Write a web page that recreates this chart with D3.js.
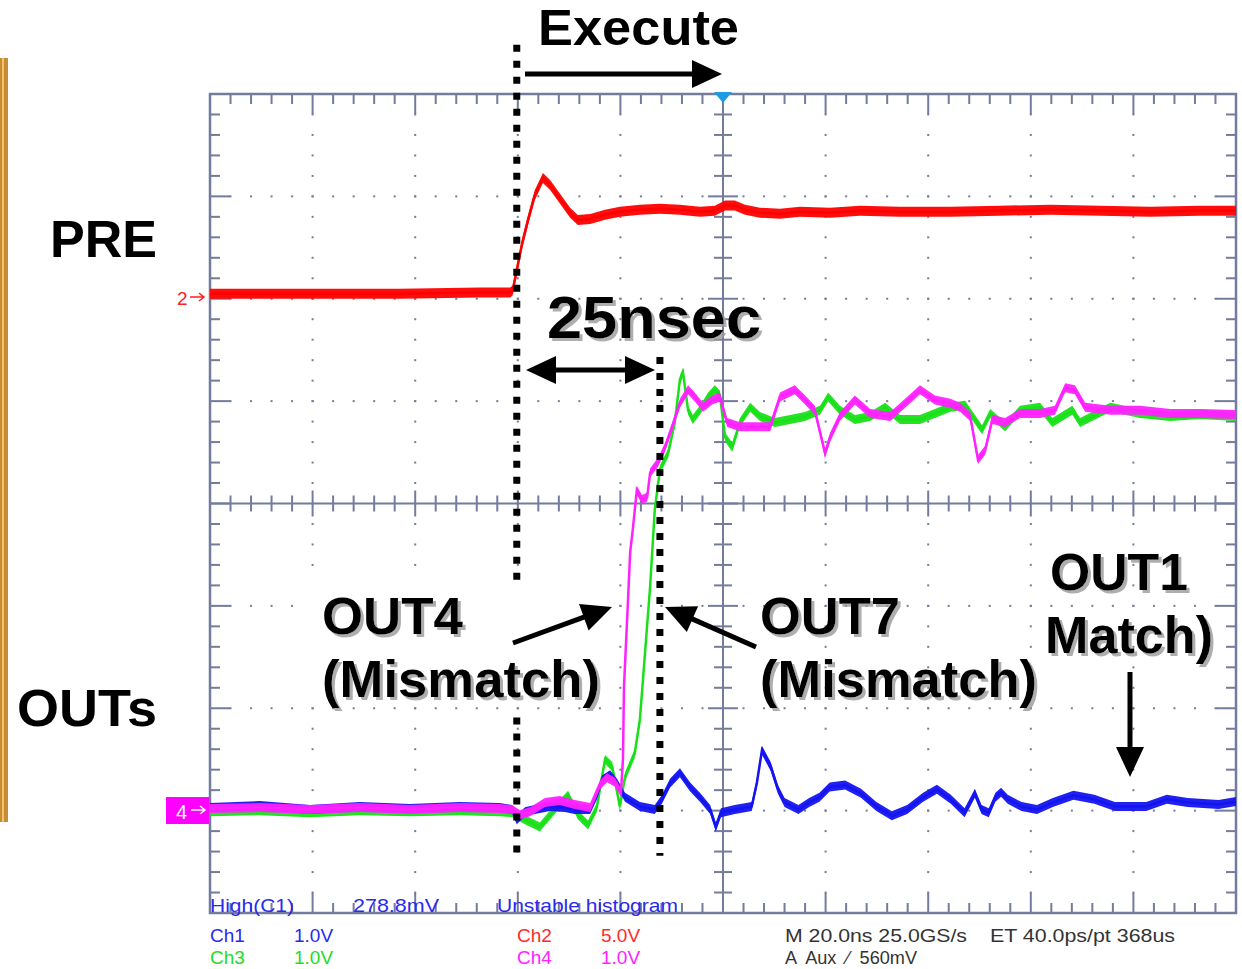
<!DOCTYPE html>
<html>
<head>
<meta charset="utf-8">
<script src="https://cdn.jsdelivr.net/npm/d3@7"></script>
<style>
  body { margin: 0; background: #fff; }
  text { font-family: 'Liberation Sans', Arial, sans-serif; }
</style>
</head>
<body>
<div id="scope"></div>
<script>
// time in ns (20 ns/div, trigger at 0), level in screen divisions
const ch2 = [ // PRE, red
  [-100, 2.05], [-82.5, 2.05], [-63, 2.05], [-47.4, 2.06], [-41.5, 2.06], [-41.0, 2.08],
  [-40.0, 2.33], [-39.2, 2.53], [-38.0, 2.77], [-36.7, 3.01], [-35.1, 3.18], [-33.7, 3.11],
  [-31.8, 2.98], [-29.8, 2.84], [-28.3, 2.77], [-25.9, 2.78], [-23.0, 2.82], [-20.1, 2.85],
  [-16.2, 2.87], [-12.3, 2.88], [-8.4, 2.87], [-4.5, 2.85], [-1.6, 2.86], [0.4, 2.91],
  [2.3, 2.91], [4.3, 2.87], [7.2, 2.84], [11.1, 2.83], [15.0, 2.85], [20.9, 2.84],
  [26.7, 2.86], [34.5, 2.85], [44.3, 2.85], [54.0, 2.86], [63.8, 2.87], [73.5, 2.86],
  [83.3, 2.85], [93.0, 2.86], [100, 2.86],
];

const ch1 = [ // OUT1, blue
  [-100, -2.97], [-90.3, -2.95], [-80.5, -2.99], [-70.8, -2.96], [-61.0, -2.98], [-51.3, -2.96],
  [-43.5, -2.97], [-41.1, -2.99], [-40.2, -3.09], [-38.6, -3.01], [-36.7, -2.99], [-33.7, -2.96],
  [-30.8, -2.97], [-28.9, -2.99], [-25.9, -2.99], [-24.6, -2.85], [-23.6, -2.70], [-22.0, -2.65],
  [-20.7, -2.73], [-19.1, -2.87], [-16.2, -2.96], [-13.3, -2.99], [-11.9, -2.89], [-10.3, -2.73],
  [-8.4, -2.63], [-6.4, -2.77], [-4.5, -2.87], [-2.5, -2.99], [-1.4, -3.16], [-0.4, -3.02],
  [2.3, -2.99], [5.6, -2.96], [6.6, -2.73], [7.6, -2.41], [9.3, -2.57], [10.7, -2.79],
  [12.0, -2.92], [14.7, -2.99], [16.8, -2.92], [18.8, -2.87], [20.8, -2.77], [23.8, -2.75],
  [26.9, -2.83], [29.9, -2.96], [32.9, -3.05], [35.9, -2.99], [39.0, -2.87], [41.7, -2.79],
  [44.4, -2.89], [47.1, -3.02], [49.1, -2.83], [50.4, -2.99], [51.8, -3.02], [53.1, -2.87],
  [54.2, -2.82], [55.5, -2.89], [58.2, -2.96], [61.2, -2.99], [64.3, -2.92], [68.3, -2.85],
  [72.4, -2.89], [76.4, -2.96], [82.5, -2.96], [86.5, -2.89], [90.6, -2.92], [96.6, -2.94],
  [100, -2.91],
];

const ch3 = [ // OUT7, green
  [-100, -3.01], [-90.3, -3.00], [-80.5, -3.02], [-70.8, -3.00], [-61.0, -3.01], [-51.3, -3.00],
  [-43.5, -3.01], [-41.1, -3.02], [-38.6, -3.09], [-35.7, -3.16], [-32.8, -2.99], [-30.2, -2.85],
  [-28.3, -3.04], [-26.3, -3.14], [-24.6, -2.97], [-23.0, -2.50], [-21.6, -2.57], [-20.1, -2.96],
  [-19.1, -2.67], [-17.2, -2.44], [-16.2, -2.11], [-15.2, -1.46], [-14.2, -0.81], [-13.3, -0.06],
  [-12.3, 0.33], [-10.7, 0.49], [-9.4, 0.79], [-8.4, 1.21], [-7.8, 1.28], [-6.8, 0.91],
  [-5.9, 0.82], [-4.5, 0.91], [-2.9, 1.04], [-1.6, 1.11], [-0.6, 1.06], [0.4, 0.65],
  [1.8, 0.55], [3.3, 0.79], [5.3, 0.94], [7.2, 0.85], [10.1, 0.79], [13.1, 0.82],
  [16.0, 0.85], [18.9, 0.91], [20.5, 1.04], [22.8, 0.91], [25.7, 0.82], [28.7, 0.85],
  [31.6, 0.94], [34.5, 0.82], [38.4, 0.82], [41.3, 0.88], [44.3, 0.94], [47.2, 0.96],
  [50.5, 0.72], [52.1, 0.88], [55.0, 0.75], [57.9, 0.91], [61.8, 0.94], [64.2, 0.79],
  [66.1, 0.85], [68.1, 0.91], [69.6, 0.79], [75.5, 0.94], [81.3, 0.88], [87.2, 0.85],
  [93.0, 0.87], [100, 0.85],
];

const ch4 = [ // OUT4, magenta
  [-100, -2.98], [-90.3, -2.97], [-80.5, -2.99], [-70.8, -2.97], [-61.0, -2.99], [-51.3, -2.97],
  [-43.5, -2.98], [-41.1, -2.99], [-39.6, -3.04], [-37.6, -3.01], [-34.7, -2.92], [-31.8, -2.90],
  [-28.9, -2.94], [-25.9, -2.97], [-24.0, -2.75], [-22.6, -2.68], [-21.1, -2.72], [-19.9, -2.82],
  [-19.5, -2.50], [-19.3, -1.79], [-18.7, -1.14], [-18.1, -0.48], [-17.6, -0.26], [-16.8, 0.13],
  [-15.8, 0.04], [-14.8, 0.06], [-14.2, 0.30], [-12.7, 0.40], [-11.3, 0.55], [-9.9, 0.75],
  [-8.4, 0.98], [-6.8, 1.11], [-5.5, 1.04], [-3.9, 0.94], [-2.1, 1.01], [-0.6, 1.04],
  [0.8, 0.79], [3.3, 0.75], [7.2, 0.75], [9.2, 0.75], [11.1, 1.04], [14.0, 1.11],
  [16.0, 1.01], [17.9, 0.91], [19.9, 0.49], [20.9, 0.65], [22.8, 0.85], [25.7, 1.01],
  [28.7, 0.88], [32.6, 0.85], [35.5, 0.98], [38.4, 1.11], [41.3, 1.01], [44.3, 0.98],
  [46.2, 0.94], [48.2, 0.85], [49.7, 0.43], [51.1, 0.52], [52.5, 0.82], [55.0, 0.79],
  [57.9, 0.88], [61.8, 0.88], [64.7, 0.91], [66.7, 1.13], [68.6, 1.11], [70.6, 0.94],
  [75.5, 0.91], [81.3, 0.91], [87.2, 0.88], [93.0, 0.88], [100, 0.87],
];

const statusRow = ['High(C1)', '278.8mV', 'Unstable histogram'];
const channelLabels = [['Ch1', '1.0V'], ['Ch2', '5.0V'], ['Ch3', '1.0V'], ['Ch4', '1.0V']];
const timebaseLines = ['M 20.0ns 25.0GS/s', 'ET 40.0ps/pt 368us', 'A  Aux  \u2215  560mV'];

const margin = {top: 94, right: 6, bottom: 56, left: 210};
const W = 1242;
const H = 969;
const width = W - margin.left - margin.right;
const height = H - margin.top - margin.bottom;

const x = d3.scaleLinear().domain([-100, 100]).range([margin.left, margin.left + width]);
const y = d3.scaleLinear().domain([-4, 4]).range([margin.top + height, margin.top]);

const gridColor = '#737c9c';
const majorX = d3.range(-5, 6).map(d => d * 20);
const minorX = d3.range(-25, 26).map(d => d * 4);
const majorY = d3.range(-4, 5);
const minorY = d3.range(-20, 21).map(d => d / 5);

const svg = d3
  .select('#scope')
  .append('svg')
  .attr('width', W)
  .attr('height', H);

const defs = svg.append('defs');
defs
  .append('filter')
  .attr('id', 'shadow')
  .append('feDropShadow')
  .attr('dx', 3)
  .attr('dy', 3)
  .attr('stdDeviation', 0.6)
  .attr('flood-color', '#9a9a9a')
  .attr('flood-opacity', 0.8);

// edge of a slide picture at the far left
svg.append('rect').attr('x', 0).attr('y', 58).attr('width', 8).attr('height', 764).attr('fill', '#c98c33');
svg.append('rect').attr('x', 2).attr('y', 58).attr('width', 2).attr('height', 764).attr('fill', '#ecc470');

const grid = svg.append('g');

// dotted graticule
const dots = [];
majorX.slice(1, -1).filter(t => t !== 0).forEach(t => {
  minorY.slice(1, -1).forEach(v => dots.push([t, v]));
});
majorY.slice(1, -1).filter(v => v !== 0).forEach(v => {
  minorX.slice(1, -1).forEach(t => dots.push([t, v]));
});
grid
  .selectAll('rect.dot')
  .data(dots)
  .join('rect')
  .attr('class', 'dot')
  .attr('x', d => x(d[0]) - 1)
  .attr('y', d => y(d[1]) - 1)
  .attr('width', 2)
  .attr('height', 2)
  .attr('fill', gridColor);

// border ticks and centre cross
const isMajorT = t => Math.abs(t % 20) < 1e-6;
const isMajorV = v => Math.abs(v - Math.round(v)) < 1e-6;
const tickLen = major => (major ? 20 : 10);
const tickLines = [];
minorX.slice(1, -1).forEach(t => {
  const l = tickLen(isMajorT(t));
  tickLines.push([x(t), y(4), x(t), y(4) + l]);
  tickLines.push([x(t), y(-4), x(t), y(-4) - l]);
  const c = isMajorT(t) ? 13 : 8;
  tickLines.push([x(t), y(0) - c, x(t), y(0) + c]);
});
minorY.slice(1, -1).forEach(v => {
  const l = tickLen(isMajorV(v));
  tickLines.push([x(-100), y(v), x(-100) + l, y(v)]);
  tickLines.push([x(100), y(v), x(100) - l, y(v)]);
  const c = isMajorV(v) ? 15 : 9;
  tickLines.push([x(0) - c, y(v), x(0) + c, y(v)]);
});
tickLines.push([x(0), y(4), x(0), y(-4)]);
tickLines.push([x(-100), y(0), x(100), y(0)]);
grid
  .selectAll('line.tick')
  .data(tickLines)
  .join('line')
  .attr('class', 'tick')
  .attr('x1', d => d[0])
  .attr('y1', d => d[1])
  .attr('x2', d => d[2])
  .attr('y2', d => d[3])
  .attr('stroke', gridColor)
  .attr('stroke-width', 2);

grid
  .append('rect')
  .attr('x', x(-100))
  .attr('y', y(4))
  .attr('width', x(100) - x(-100))
  .attr('height', y(-4) - y(4))
  .attr('fill', 'none')
  .attr('stroke', gridColor)
  .attr('stroke-width', 2.5);

// trigger position marker
svg
  .append('path')
  .attr('d', `M${x(0) - 9},${y(4) - 2}L${x(0) + 9},${y(4) - 2}L${x(0)},${y(4) + 9}Z`)
  .attr('fill', '#1f9be3');

// waveforms: noisy band + core line
const traces = [
  {data: ch2, color: '#ff0000', noise: 5},
  {data: ch3, color: '#19e019', noise: 4.5},
  {data: ch1, color: '#1414f0', noise: 4.5},
  {data: ch4, color: '#ff22ff', noise: 4.5},
];
traces.forEach(tr => {
  const band = d3
    .area()
    .x(d => x(d[0]))
    .y0(d => y(d[1]) - tr.noise)
    .y1(d => y(d[1]) + tr.noise);
  const core = d3
    .line()
    .x(d => x(d[0]))
    .y(d => y(d[1]));
  svg.append('path').datum(tr.data).attr('d', band).attr('fill', tr.color).attr('opacity', 0.95);
  svg
    .append('path')
    .datum(tr.data)
    .attr('d', core)
    .attr('fill', 'none')
    .attr('stroke', tr.color)
    .attr('stroke-width', 2.5);
});

// channel ground markers
svg.append('text').attr('x', 177).attr('y', 305).attr('font-size', 19).attr('fill', '#ff2020').text('2');
svg.append('path').attr('d', 'M190,297H204M199,293L204,297L199,301').attr('stroke', '#ff2020').attr('fill', 'none').attr('stroke-width', 1.5);
svg.append('rect').attr('x', 166).attr('y', 797).attr('width', 43).attr('height', 27).attr('fill', '#ff00ff');
svg.append('text').attr('x', 176).attr('y', 819).attr('font-size', 20).attr('fill', '#fff').text('4');
svg.append('path').attr('d', 'M191,810H205M200,806L205,810L200,814').attr('stroke', '#fff').attr('fill', 'none').attr('stroke-width', 1.5);

// status texts under the graticule
const status = svg.append('g').attr('font-size', 19);
[[210, 84], [353, 86], [497, 181]].forEach(([px, len], i) => {
  status.append('text').attr('x', px).attr('y', 912).attr('fill', '#2a2aee')
    .attr('textLength', len).attr('lengthAdjust', 'spacingAndGlyphs').text(statusRow[i]);
});
const chColors = ['#2a2aee', '#ff2a2a', '#22dd22', '#ff22ff'];
channelLabels.forEach(([name, scale], i) => {
  const px = i % 2 === 0 ? 210 : 517;
  const py = i < 2 ? 942 : 964;
  status.append('text').attr('x', px).attr('y', py).attr('fill', chColors[i]).text(name);
  status.append('text').attr('x', px + 84).attr('y', py).attr('fill', chColors[i]).text(scale);
});
status.append('text').attr('x', 785).attr('y', 942).attr('fill', '#333')
  .attr('textLength', 182).attr('lengthAdjust', 'spacingAndGlyphs').text(timebaseLines[0]);
status.append('text').attr('x', 990).attr('y', 942).attr('fill', '#333')
  .attr('textLength', 185).attr('lengthAdjust', 'spacingAndGlyphs').text(timebaseLines[1]);
status.append('text').attr('x', 785).attr('y', 964).attr('fill', '#333')
  .attr('xml:space', 'preserve').attr('textLength', 132).attr('lengthAdjust', 'spacingAndGlyphs').text(timebaseLines[2]);

// annotations
const notes = svg.append('g');
notes.append('rect').attr('x', 300).attr('y', 582).attr('width', 303).attr('height', 120).attr('fill', '#fff');

const dotted = (t, v1, v2) => {
  notes
    .append('line')
    .attr('x1', x(t))
    .attr('x2', x(t))
    .attr('y1', y(v1))
    .attr('y2', y(v2))
    .attr('stroke', '#000')
    .attr('stroke-width', 7)
    .attr('stroke-dasharray', '7,9');
};
dotted(-40.2, 4.48, -0.75);
dotted(-40.2, -2.09, -3.44);
dotted(-12.3, 1.43, -3.44);

const arrow = (x1, y1, x2, y2, both) => {
  const a = Math.atan2(y2 - y1, x2 - x1);
  const hl = 30;
  const hw = 14;
  const head = (tx, ty, ang) => {
    const bx = tx - hl * Math.cos(ang);
    const by = ty - hl * Math.sin(ang);
    const px = -Math.sin(ang) * hw;
    const py = Math.cos(ang) * hw;
    notes.append('path').attr('d', `M${tx},${ty}L${bx + px},${by + py}L${bx - px},${by - py}Z`).attr('fill', '#000');
  };
  const sx = both ? x1 + hl * Math.cos(a) * 0.8 : x1;
  const sy = both ? y1 + hl * Math.sin(a) * 0.8 : y1;
  notes.append('line')
    .attr('x1', sx).attr('y1', sy)
    .attr('x2', x2 - hl * Math.cos(a) * 0.8).attr('y2', y2 - hl * Math.sin(a) * 0.8)
    .attr('stroke', '#000').attr('stroke-width', 5);
  head(x2, y2, a);
  if (both) head(x1, y1, a + Math.PI);
};
arrow(525, 74, 722, 74, false);
arrow(526, 370, 655, 370, true);
arrow(513, 643, 612, 607, false);
arrow(756, 647, 665, 607, false);
arrow(1130, 672, 1130, 777, false);

const label = (txt, px, py, size, len, shadow) => {
  notes.append('text').attr('x', px).attr('y', py).attr('font-size', size)
    .attr('font-weight', 'bold').attr('fill', '#000')
    .attr('filter', shadow ? 'url(#shadow)' : null)
    .attr('textLength', len).attr('lengthAdjust', 'spacingAndGlyphs').text(txt);
};
label('Execute', 538, 45, 50, 201, false);
label('PRE', 50, 257, 52, 107, false);
label('OUTs', 17, 726, 52, 140, false);
label('25nsec', 547, 338, 60, 214, true);
label('OUT4', 322, 634, 52, 141, true);
label('(Mismatch)', 322, 697, 52, 278, true);
label('OUT7', 760, 634, 52, 140, true);
label('(Mismatch)', 760, 697, 52, 277, true);
label('OUT1', 1050, 590, 52, 138, true);
label('Match)', 1045, 653, 52, 168, true);
</script>
</body>
</html>
